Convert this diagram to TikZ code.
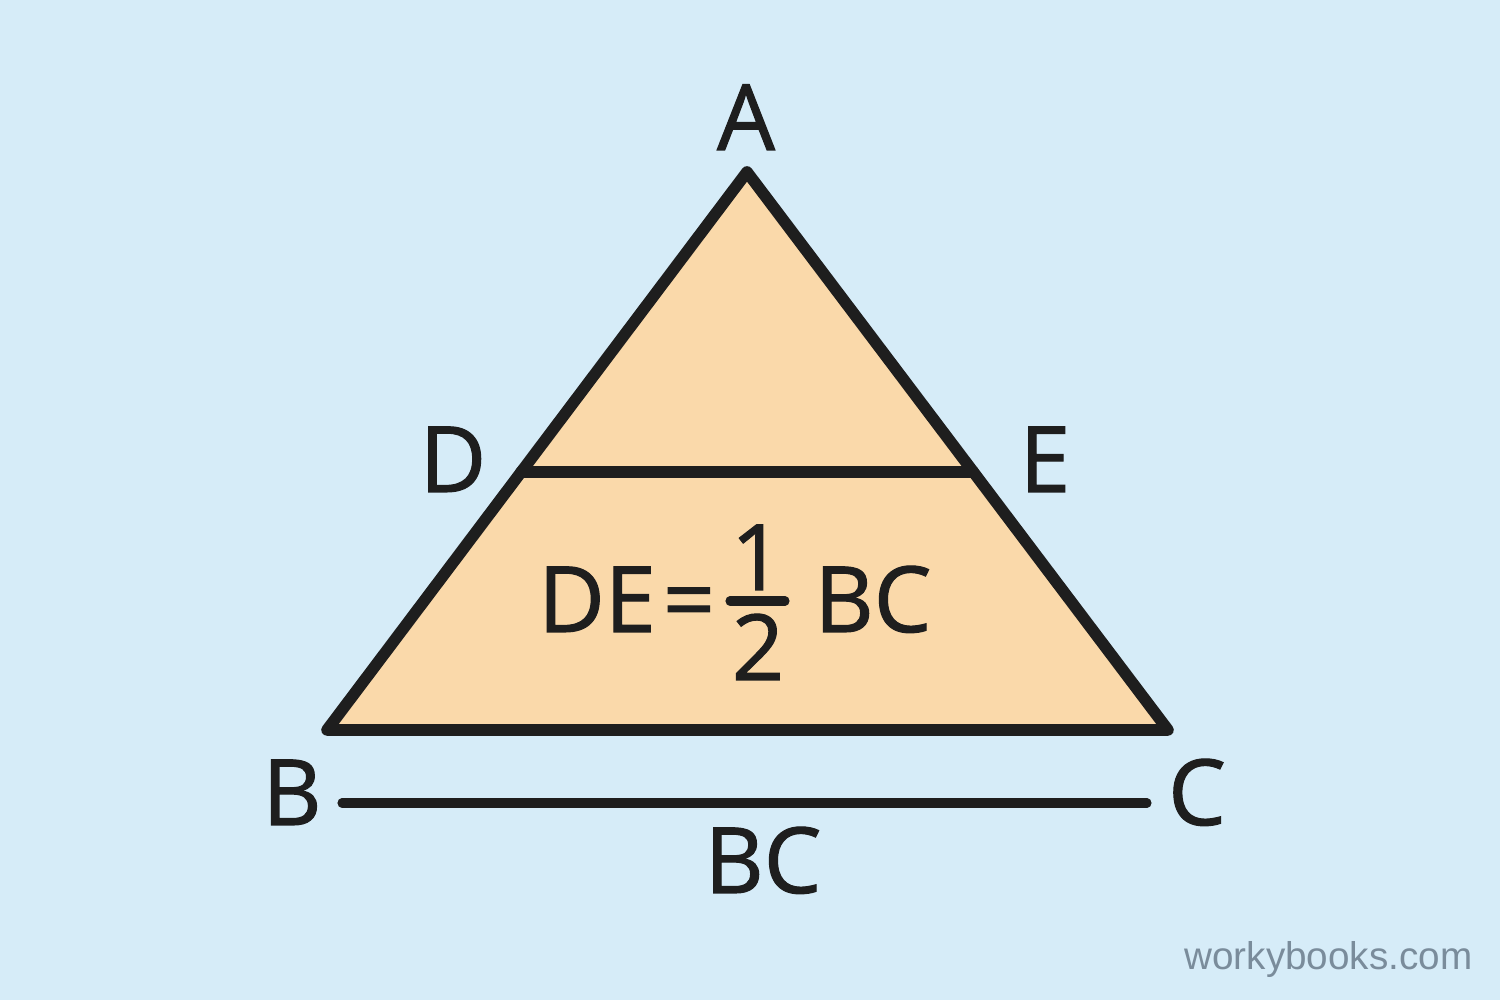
\documentclass[tikz,border=0pt]{standalone}
\usepackage{fontspec}
\setmainfont{Open Sans}
\newfontfamily\labelfont{Open Sans}[UprightFeatures={FakeBold=1.2}]
\newfontfamily\markfont{Liberation Sans}
\usetikzlibrary{calc}
\definecolor{skyback}{RGB}{214,236,248}
\definecolor{peach}{RGB}{250,217,170}
\definecolor{ink}{RGB}{30,30,30}
\definecolor{markgray}{RGB}{122,140,155}

\begin{document}
\begin{tikzpicture}[
  lbl/.style={anchor=base, inner sep=0pt, text=ink, font=\labelfont\fontsize{26}{30}\selectfont},
  side/.style={draw=ink, line width=3.3pt, line join=round, line cap=round}
]
\fill[skyback] (0,0) rectangle (15,10);
\useasboundingbox (0,0) rectangle (15,10);

\coordinate (A) at (7.47, 8.28);
\coordinate (B) at (3.27, 2.70);
\coordinate (C) at (11.68, 2.70);
\coordinate (D) at ($(A)!0.5376!(B)$);
\coordinate (E) at ($(A)!0.5376!(C)$);

\draw[side, fill=peach] (A) -- (B) -- (C) -- cycle;
\draw[side] (D) -- (E);

\node[lbl] (lA) at (7.46, 8.50) {A};
\node[lbl] (lD) at (4.53, 5.08) {D};
\node[lbl] (lE) at (10.45, 5.08) {E};
\node[lbl] (lB) at (2.92, 1.75) {B};
\node[lbl] (lC) at (11.97, 1.75) {C};

% length bar under the base
\coordinate (bl) at (3.42, 1.97);
\coordinate (br) at (11.47, 1.97);
\draw[ink, line width=2.6pt, line cap=round] (bl) -- (br);
\node[lbl] (lBC) at (7.63, 1.07) {BC};

% the formula
\node[lbl] (fDE) at (5.97, 3.68) {DE};
\node[lbl] (feq) at (6.89, 3.68) {=};
\node[lbl] (fone) at (7.57, 4.10) {1};
\node[lbl] (ftwo) at (7.58, 3.20) {2};
\draw[ink, line width=2.6pt, line cap=round] (7.30, 3.99) -- (7.85, 3.99);
\node[lbl] (fBC) at (8.73, 3.68) {BC};

\node[anchor=base east, inner sep=0pt, text=markgray, font=\markfont\fontsize{11}{14}\selectfont] (mark) at (14.73, 0.30) {workybooks.com};
\end{tikzpicture}
\end{document}
